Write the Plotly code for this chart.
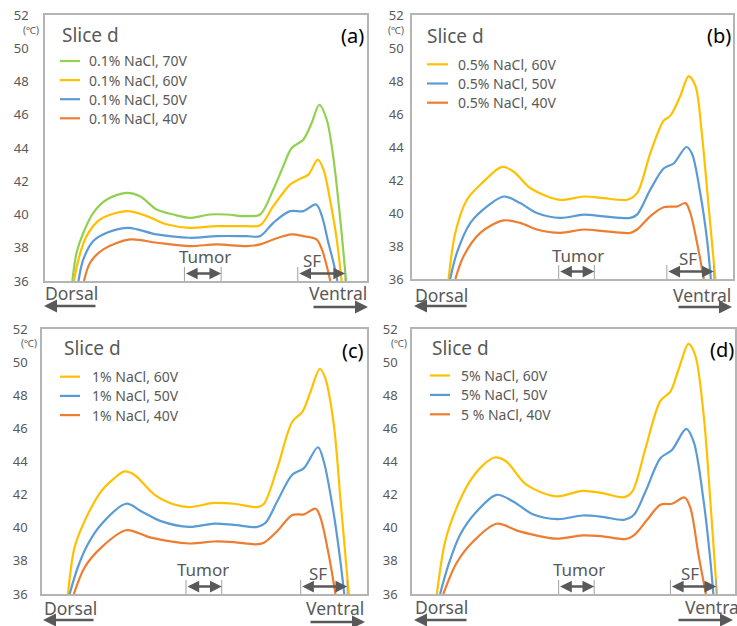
import plotly.graph_objects as go

W, H = 737, 626

# ---------------- data (position along slice, % of width ; temperature, degC) -------------
# Panel (a): 0.1% NaCl
a70_x = [8.5, 9.8, 11.9, 15.0, 19.2, 25.2, 29.5, 34.7, 39.9, 45.0, 51.2, 56.4, 62.6, 66.8, 70.9, 74.0, 76.6, 80.2, 82.8, 85.2, 87.5, 89.5, 91.6, 93.5]
a70_y = [36.0, 37.7, 38.9, 40.1, 40.9, 41.3, 41.1, 40.3, 40.0, 39.8, 40.0, 40.0, 39.9, 40.0, 41.5, 42.9, 44.0, 44.5, 45.5, 46.6, 45.7, 43.5, 39.9, 36.0]
a60_x = [9.0, 10.4, 12.9, 17.1, 25.6, 31.6, 38.0, 45.0, 53.3, 62.6, 66.8, 70.9, 76.1, 78.7, 81.8, 84.7, 86.5, 88.5, 90.6, 92.1]
a60_y = [36.0, 37.3, 38.7, 39.7, 40.2, 39.9, 39.4, 39.2, 39.3, 39.3, 39.35, 40.5, 41.8, 42.1, 42.4, 43.3, 42.7, 40.9, 38.5, 36.0]
a50_x = [10.4, 11.9, 15.0, 19.2, 25.9, 34.7, 45.0, 53.3, 62.6, 66.8, 70.9, 76.1, 80.2, 84.2, 86.0, 88.0, 89.6, 90.8]
a50_y = [36.0, 37.3, 38.4, 38.9, 39.2, 38.8, 38.6, 38.7, 38.7, 38.7, 39.5, 40.2, 40.2, 40.6, 39.9, 38.3, 37.1, 36.0]
a40_x = [12.1, 14.0, 18.1, 26.4, 34.7, 45.0, 53.3, 62.6, 66.8, 70.9, 76.6, 80.2, 84.3, 86.0, 87.5, 88.6]
a40_y = [36.0, 37.1, 37.9, 38.5, 38.3, 38.1, 38.2, 38.1, 38.2, 38.5, 38.8, 38.7, 38.5, 37.9, 36.9, 36.0]

# Panel (b): 0.5% NaCl
b60_x = [11.4, 13.5, 17.1, 22.3, 28.0, 31.7, 36.9, 46.2, 53.5, 59.7, 67.0, 70.1, 74.2, 78.4, 80.5, 83.6, 86.2, 88.3, 90.3, 92.4, 94.5]
b60_y = [36.0, 38.8, 40.8, 41.9, 42.8, 42.5, 41.5, 40.8, 41.0, 40.9, 40.8, 41.2, 43.6, 45.6, 45.9, 47.1, 48.3, 47.7, 44.8, 40.4, 36.0]
b50_x = [11.9, 14.0, 18.2, 23.4, 28.6, 33.7, 38.9, 46.2, 53.5, 59.7, 68.0, 70.1, 74.2, 78.4, 81.5, 85.5, 87.2, 89.8, 91.9, 93.1]
b50_y = [36.0, 37.6, 39.4, 40.4, 41.0, 40.6, 40.0, 39.7, 39.9, 39.8, 39.7, 39.9, 41.4, 42.7, 43.0, 44.0, 43.6, 41.2, 38.4, 36.0]
b40_x = [13.5, 16.1, 21.3, 28.6, 33.7, 38.9, 46.2, 53.5, 59.7, 68.0, 70.1, 74.2, 78.4, 82.6, 85.2, 86.7, 88.8, 90.9]
b40_y = [36.0, 37.4, 38.8, 39.55, 39.4, 39.0, 38.8, 39.0, 38.9, 38.8, 39.0, 39.8, 40.35, 40.4, 40.6, 40.0, 38.2, 36.0]

# Panel (c): 1% NaCl
c60_x = [8.0, 10.0, 13.1, 18.2, 22.3, 25.4, 28.4, 34.6, 40.7, 45.3, 53.0, 59.1, 66.3, 68.3, 72.4, 77.0, 80.1, 82.6, 85.5, 87.2, 89.8, 91.8, 94.4]
c60_y = [36.0, 38.8, 40.4, 42.2, 43.0, 43.4, 43.2, 42.0, 41.4, 41.25, 41.5, 41.45, 41.25, 41.45, 43.6, 46.4, 47.0, 48.2, 49.6, 49.0, 46.2, 41.8, 36.0]
c50_x = [8.5, 11.0, 14.1, 18.2, 25.9, 30.5, 36.6, 45.3, 53.0, 59.1, 66.3, 68.8, 72.4, 77.0, 80.6, 84.9, 86.7, 89.8, 91.8, 93.0]
c50_y = [36.0, 37.6, 39.0, 40.2, 41.45, 41.0, 40.4, 40.05, 40.25, 40.17, 40.05, 40.3, 41.6, 43.2, 43.6, 44.86, 44.0, 40.8, 38.0, 36.0]
c40_x = [9.8, 13.1, 18.2, 25.9, 33.5, 45.3, 53.0, 59.1, 65.7, 68.3, 72.4, 77.0, 80.6, 84.2, 85.7, 88.2, 90.3]
c40_y = [36.0, 37.6, 38.8, 39.85, 39.4, 39.05, 39.17, 39.13, 39.0, 39.1, 39.8, 40.77, 40.81, 41.15, 40.6, 38.4, 36.0]

# Panel (d): 5% NaCl
d60_x = [7.7, 10.3, 13.8, 17.9, 22.1, 25.6, 29.2, 35.4, 44.6, 52.8, 59.0, 65.6, 68.2, 72.3, 76.9, 80.0, 82.6, 85.6, 87.7, 90.3, 92.3, 94.4]
d60_y = [36.0, 39.2, 41.2, 42.8, 43.8, 44.24, 44.0, 42.6, 41.9, 42.23, 42.09, 41.85, 42.19, 44.8, 47.66, 48.22, 49.6, 51.1, 50.4, 46.8, 41.8, 36.0]
d50_x = [8.7, 11.3, 14.9, 20.0, 26.2, 31.3, 37.4, 45.1, 52.8, 59.0, 65.6, 68.7, 72.3, 76.9, 80.5, 84.9, 87.2, 90.3, 92.3, 93.3]
d50_y = [36.0, 37.77, 39.58, 40.98, 41.99, 41.59, 40.82, 40.52, 40.74, 40.66, 40.48, 40.78, 42.19, 44.2, 44.7, 45.97, 45.2, 41.59, 38.17, 36.0]
d40_x = [9.7, 13.8, 19.0, 26.2, 33.3, 44.6, 52.8, 59.0, 66.2, 68.7, 72.8, 76.9, 80.5, 84.4, 86.2, 88.7, 91.0]
d40_y = [36.0, 37.87, 39.18, 40.24, 39.78, 39.34, 39.54, 39.48, 39.32, 39.54, 40.48, 41.39, 41.45, 41.83, 41.19, 38.37, 36.0]

# region markers (start, end) and label centre, in % of width
tumor_range = {"a": [43.3, 54.7], "b": [45.7, 56.8], "c": [44.3, 55.3], "d": [45.4, 56.4]}
sf_range = {"a": [78.5, 93.2], "b": [79.4, 94.0], "c": [79.6, 93.9], "d": [80.0, 94.2]}
tumor_label_x = {"a": 49.7, "b": 51.8, "c": 49.6, "d": 51.8}
sf_label_x = {"a": 82.9, "b": 86.0, "c": 84.9, "d": 86.1}

y_ticks = [36, 38, 40, 42, 44, 46, 48, 50, 52]

GREEN, YELLOW, BLUE, ORANGE = "#92d050", "#ffc000", "#5b9bd5", "#ed7d31"
GREY_TXT = "#595959"
FRAME = "#b4b4b4"
FONT = "Noto Sans"

panels = [
    dict(key="a", box=(45, 15, 367, 281), std=12,
         series=[(a70_x, a70_y, "0.1% NaCl, 70V", GREEN), (a60_x, a60_y, "0.1% NaCl, 60V", YELLOW),
                 (a50_x, a50_y, "0.1% NaCl, 50V", BLUE), (a40_x, a40_y, "0.1% NaCl, 40V", ORANGE)],
         leg=(60, 80, 87, 61, 19.1), slice=(60, 35), lab=(366, 35), unit=(31, 30),
         dorsal=(43, 293, 306, 97), ventral=(369, 293, 307, 312)),
    dict(key="b", box=(412, 15, 733, 279), std=4,
         series=[(b60_x, b60_y, "0.5% NaCl, 60V", YELLOW), (b50_x, b50_y, "0.5% NaCl, 50V", BLUE),
                 (b40_x, b40_y, "0.5% NaCl, 40V", ORANGE)],
         leg=(427, 448, 456, 64.3, 19.2), slice=(425, 36), lab=(733, 35), unit=(396, 30),
         dorsal=(413, 295, 306, 468), ventral=(733, 295, 307, 677)),
    dict(key="c", box=(42, 329, 367, 594), std=10,
         series=[(c60_x, c60_y, "1% NaCl, 60V", YELLOW), (c50_x, c50_y, "1% NaCl, 50V", BLUE),
                 (c40_x, c40_y, "1% NaCl, 40V", ORANGE)],
         leg=(60, 80, 90, 376.7, 19.2), slice=(62, 348), lab=(366, 350), unit=(29, 343),
         dorsal=(42, 608, 620, 95), ventral=(366, 608, 622, 309)),
    dict(key="d", box=(412, 329, 735, 594), std=10,
         series=[(d60_x, d60_y, "5% NaCl, 60V", YELLOW), (d50_x, d50_y, "5% NaCl, 50V", BLUE),
                 (d40_x, d40_y, "5 % NaCl, 40V", ORANGE)],
         leg=(430, 450, 459, 375.5, 19.4), slice=(430, 348), lab=(736, 349), unit=(399, 343),
         dorsal=(413, 607, 620, 468), ventral=(745, 607, 620, 677)),
]


def px(v):
    return v / W


def py(v):
    return 1 - v / H


fig = go.Figure()
layout = dict(width=W, height=H, margin=dict(l=0, r=0, t=0, b=0, autoexpand=False),
              paper_bgcolor="white", plot_bgcolor="white", showlegend=False,
              font=dict(family=FONT, color=GREY_TXT))
annotations, shapes = [], []

for i, p in enumerate(panels, start=1):
    sfx = "" if i == 1 else str(i)
    xa, ya = "x" + sfx, "y" + sfx
    key = p["key"]
    x0, y0, x1, y1 = p["box"]
    layout["xaxis" + sfx] = dict(domain=[px(x0), px(x1)], range=[0, 100], anchor=ya,
                                 showline=True, mirror=True, linecolor=FRAME, linewidth=1.5,
                                 showgrid=False, zeroline=False, showticklabels=False, ticks="",
                                 fixedrange=True, automargin=False)
    layout["yaxis" + sfx] = dict(domain=[py(y1), py(y0)], range=[36, 52], anchor=xa,
                                 tickvals=y_ticks, ticks="", showline=True, mirror=True,
                                 linecolor=FRAME, linewidth=1.5, showgrid=False, zeroline=False,
                                 tickfont=dict(size=13, color=GREY_TXT, family=FONT),
                                 ticklabelstandoff=p["std"], fixedrange=True, automargin=False)

    lx0, lx1, ltx, ly0, ldy = p["leg"]
    for k, (xs, ys, name, col) in enumerate(p["series"]):
        fig.add_trace(go.Scatter(x=xs, y=ys, mode="lines", name=name, xaxis=xa, yaxis=ya,
                                 line=dict(color=col, width=2.2, shape="spline", smoothing=0.9)))
        # legend entry (sample line + label)
        yy = py(ly0 + k * ldy)
        shapes.append(dict(type="line", xref="paper", yref="paper", x0=px(lx0), x1=px(lx1),
                           y0=yy, y1=yy, line=dict(color=col, width=2.2)))
        annotations.append(dict(x=px(ltx), y=yy, xref="paper", yref="paper", text=name,
                                showarrow=False, xanchor="left", yanchor="middle",
                                font=dict(size=14, color=GREY_TXT)))

    # Slice d label, panel letter, unit
    annotations.append(dict(x=px(p["slice"][0]), y=py(p["slice"][1]), xref="paper", yref="paper",
                            text="Slice d", showarrow=False, xanchor="left", yanchor="middle",
                            font=dict(size=19, color=GREY_TXT)))
    annotations.append(dict(x=px(p["lab"][0]), y=py(p["lab"][1]), xref="paper", yref="paper",
                            text="(" + key + ")", showarrow=False, xanchor="right",
                            yanchor="middle", font=dict(size=20, color="black")))
    annotations.append(dict(x=px(p["unit"][0]), y=py(p["unit"][1]), xref="paper", yref="paper",
                            text="(\u2103)", showarrow=False, xanchor="center", yanchor="middle",
                            font=dict(size=10, color=GREY_TXT)))

    # Tumor / SF region arrows
    for rng, label, lx, ly in ((tumor_range[key], "Tumor", tumor_label_x[key], 37.45),
                               (sf_range[key], "SF", sf_label_x[key], 37.25)):
        a, b = rng
        annotations.append(dict(x=b, y=36.45, ax=a, ay=36.45, xref=xa, yref=ya, axref=xa, ayref=ya,
                                text="", showarrow=True, arrowhead=2, arrowside="end+start",
                                arrowsize=0.9, arrowwidth=2.6, arrowcolor="#595959"))
        annotations.append(dict(x=lx, y=ly, xref=xa, yref=ya, text=label,
                                showarrow=False, font=dict(size=17, color=GREY_TXT)))
        for xv in (a, b):
            shapes.append(dict(type="line", xref=xa, yref=ya, x0=xv, x1=xv, y0=36, y1=36.85,
                               line=dict(color="#a0a0a0", width=1)))

    # Dorsal / Ventral direction labels
    dxl, dty, day, dtail = p["dorsal"]
    annotations.append(dict(x=px(dxl), y=py(dty), xref="paper", yref="paper", text="Dorsal",
                            showarrow=False, xanchor="left", yanchor="middle",
                            font=dict(size=17.5, color=GREY_TXT)))
    annotations.append(dict(x=px(dxl + 1), y=py(day), xref="paper", yref="paper", text="",
                            showarrow=True, ax=dtail - dxl - 1, ay=0, arrowhead=2, arrowsize=1,
                            arrowwidth=2.6, arrowcolor="#595959"))
    vxr, vty, vay, vtail = p["ventral"]
    annotations.append(dict(x=px(vxr), y=py(vty), xref="paper", yref="paper", text="Ventral",
                            showarrow=False, xanchor="right", yanchor="middle",
                            font=dict(size=17.5, color=GREY_TXT)))
    vhead = min(vxr - 1, 733)
    annotations.append(dict(x=px(vhead), y=py(vay), xref="paper", yref="paper", text="",
                            showarrow=True, ax=vtail - vhead, ay=0, arrowhead=2, arrowsize=1,
                            arrowwidth=2.6, arrowcolor="#595959"))

layout["annotations"] = annotations
layout["shapes"] = shapes
fig.update_layout(**layout)
fig.write_html("out.html", config={"displayModeBar": False},
               post_script="document.body.style.margin='0';document.body.style.overflow='hidden';")
